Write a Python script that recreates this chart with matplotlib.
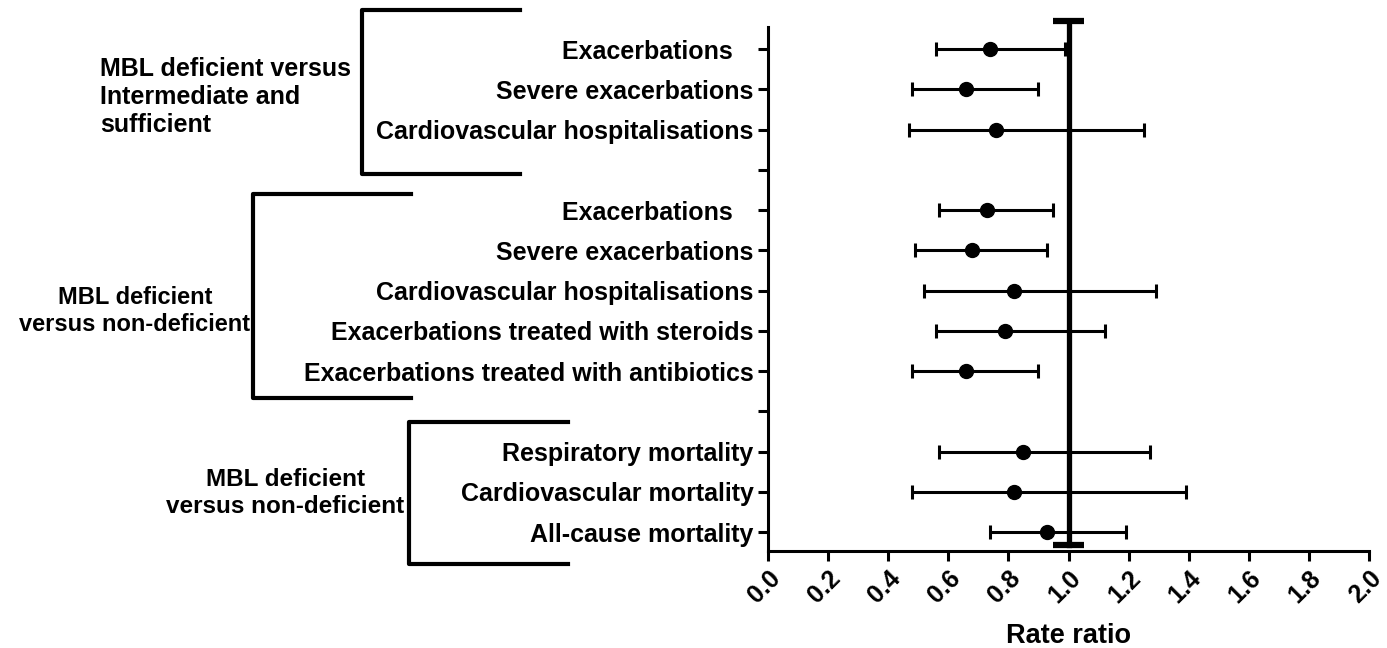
import matplotlib
matplotlib.use("Agg")
import matplotlib.pyplot as plt

plt.rcParams["font.family"] = ["Liberation Sans", "DejaVu Sans"]
plt.rcParams["font.weight"] = "bold"

# rows from top to bottom; empty strings are the spacer rows
labels = ["Exacerbations   ", "Severe exacerbations", "Cardiovascular hospitalisations", "",
          "Exacerbations   ", "Severe exacerbations", "Cardiovascular hospitalisations",
          "Exacerbations treated with steroids", "Exacerbations treated with antibiotics", "",
          "Respiratory mortality", "Cardiovascular mortality", "All-cause mortality"]
est = [0.74, 0.66, 0.76, None, 0.73, 0.68, 0.82, 0.79, 0.66, None, 0.85, 0.82, 0.93]
lo = [0.56, 0.48, 0.47, None, 0.57, 0.49, 0.52, 0.56, 0.48, None, 0.57, 0.48, 0.74]
hi = [0.99, 0.90, 1.25, None, 0.95, 0.93, 1.29, 1.12, 0.90, None, 1.27, 1.39, 1.19]
xticks = [0.0, 0.2, 0.4, 0.6, 0.8, 1.0, 1.2, 1.4, 1.6, 1.8, 2.0]

fig = plt.figure(figsize=(13.87, 6.48), dpi=100)
ax = fig.add_axes([768/1387, 1-551/648, (1369-768)/1387, (551-27)/648])
ax.set_xlim(0, 2.0)
ax.set_ylim(12.47, -0.55)

ys = [i for i, e in enumerate(est) if e is not None]
xs = [est[i] for i in ys]
xerr = [[est[i]-lo[i] for i in ys], [hi[i]-est[i] for i in ys]]
ax.errorbar(xs, ys, xerr=xerr, fmt="o", color="black", ms=10, elinewidth=2.2,
            capsize=5, capthick=2.2, zorder=3)

# reference line at 1 with caps
ax.plot([1, 1], [-0.70, 12.32], color="black", lw=3.8, clip_on=False, zorder=2)
for yy in (-0.70, 12.32):
    ax.plot([0.95, 1.05], [yy, yy], color="black", lw=4.5, clip_on=False,
            solid_capstyle="butt", zorder=2)

ax.set_yticks(range(len(labels)))
ax.set_yticklabels(labels, fontsize=18, fontweight="bold")
ax.set_xticks(xticks)
ax.set_xticklabels([f"{t:.1f}" for t in xticks], rotation=45, ha="right",
                   rotation_mode="anchor", fontsize=18, fontweight="bold")
ax.tick_params(axis="both", width=2.2, length=7, direction="out")
ax.tick_params(axis="x", pad=4)
for s in ("top", "right"):
    ax.spines[s].set_visible(False)
for s in ("left", "bottom"):
    ax.spines[s].set_linewidth(2.2)
ax.set_xlabel("Rate ratio", fontsize=19.5, fontweight="bold", labelpad=11)

# group brackets (figure pixel coordinates)
def bracket(x0, x1, y0, y1):
    fig.add_artist(plt.Line2D([x1/1387, x0/1387, x0/1387, x1/1387],
                              [1-y0/648, 1-y0/648, 1-y1/648, 1-y1/648],
                              color="black", lw=3, solid_joinstyle="round"))

bracket(362, 520, 10, 174)
bracket(253, 411, 194, 398)
bracket(409, 568, 422, 564)

fig.text(100/1387, 1-97/648, "MBL deficient versus\nIntermediate and\nsufficient",
         ha="left", va="center", fontsize=18, fontweight="bold", linespacing=1.2)
fig.text(135/1387, 1-311/648, "MBL deficient\nversus non-deficient",
         ha="center", va="center", fontsize=17, fontweight="bold", linespacing=1.2)
fig.text(285/1387, 1-493/648, "MBL deficient\nversus non-deficient",
         ha="center", va="center", fontsize=17.5, fontweight="bold", linespacing=1.2)

fig.savefig("out.png", dpi=100)
